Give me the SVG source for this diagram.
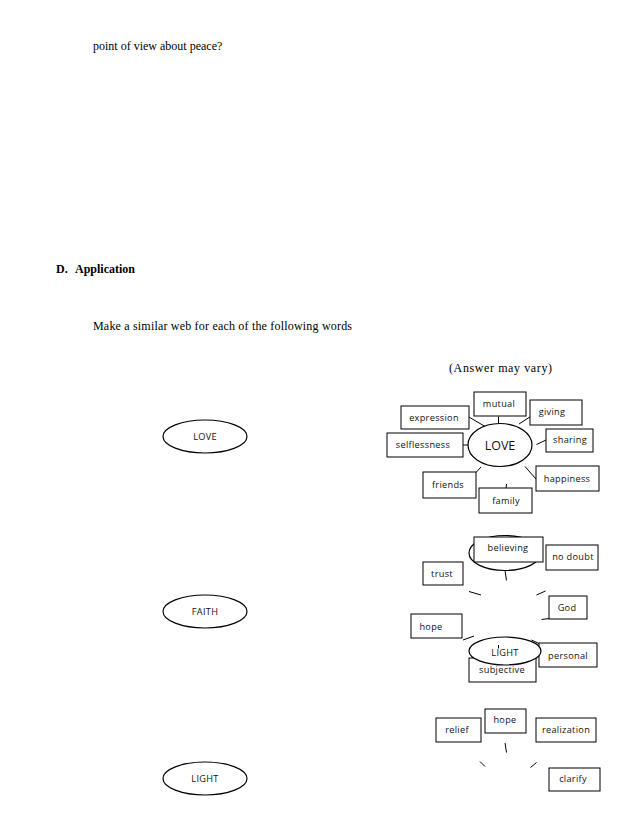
<svg xmlns="http://www.w3.org/2000/svg" width="638" height="826" viewBox="0 0 638 826">
<style>
.doc{font-family:"Liberation Serif","Times New Roman",serif;font-size:12px;fill:#000}
.b{font-weight:bold}
.box{fill:#fff;stroke:#000;stroke-width:1}
.ell{fill:#fff;stroke:#000;stroke-width:1.2}
.lbl{font-family:"Open Sans","Liberation Sans",sans-serif;font-size:9.2px;fill:#111;text-anchor:middle;letter-spacing:0.3px}
.big{font-size:12.5px;letter-spacing:0}
.con line{stroke:#000;stroke-width:1}
</style>
<rect width="638" height="826" fill="#fff"/>
<text class="doc" x="93" y="50">point of view about peace?</text>
<text class="doc b" x="56" y="273">D.</text>
<text class="doc b" x="75" y="273">Application</text>
<text class="doc" x="93" y="330" textLength="259">Make a similar web for each of the following words</text>
<text class="doc" x="449" y="372" textLength="103">(Answer may vary)</text>

<g id="left-love"><ellipse class="ell" cx="205" cy="436.5" rx="42" ry="16.5"/><text class="lbl" x="205" y="440">LOVE</text></g>
<g id="left-faith"><ellipse class="ell" cx="205" cy="611.5" rx="42" ry="16.5"/><text class="lbl" x="205" y="615">FAITH</text></g>
<g id="left-light"><ellipse class="ell" cx="205" cy="778.5" rx="42" ry="16.5"/><text class="lbl" x="205" y="782">LIGHT</text></g>

<g class="con" id="connectors">
<line x1="468" y1="416.5" x2="486" y2="427"/>
<line x1="498.5" y1="416.5" x2="498.5" y2="424"/>
<line x1="530.5" y1="416.5" x2="519" y2="424"/>
<line x1="463" y1="445" x2="468.5" y2="445"/>
<line x1="546" y1="440" x2="536.5" y2="444.5"/>
<line x1="476" y1="472.5" x2="481" y2="467"/>
<line x1="525" y1="466.5" x2="536" y2="479"/>
<line x1="506.5" y1="484" x2="506" y2="488.5"/>
<line x1="505" y1="570.5" x2="506.5" y2="580.5"/>
<line x1="469" y1="591.5" x2="481" y2="595"/>
<line x1="536.5" y1="595" x2="545.5" y2="591"/>
<line x1="541.5" y1="619.5" x2="549.5" y2="618.5"/>
<line x1="463" y1="640" x2="474" y2="636"/>
<line x1="531.5" y1="640" x2="540" y2="644"/>
<line x1="505" y1="743" x2="506.5" y2="752.5"/>
<line x1="480" y1="761.5" x2="485" y2="766.5"/>
<line x1="530.5" y1="767.5" x2="536.5" y2="762.5"/>
</g>

<g id="love">
<ellipse class="ell" cx="500" cy="445" rx="32" ry="21.5"/>
<text class="lbl big" x="500" y="449.5">LOVE</text>
</g>
<g id="expression"><rect class="box" x="401" y="406" width="68" height="23"/><text class="lbl" x="434" y="421">expression</text></g>
<g id="mutual"><rect class="box" x="474" y="392" width="52" height="24"/><text class="lbl" x="499" y="407">mutual</text></g>
<g id="giving"><rect class="box" x="530" y="400" width="52" height="25"/><text class="lbl" x="552" y="415">giving</text></g>
<g id="selflessness"><rect class="box" x="387" y="433" width="76" height="24"/><text class="lbl" x="423" y="448">selflessness</text></g>
<g id="sharing"><rect class="box" x="546" y="429" width="47" height="23"/><text class="lbl" x="570" y="443">sharing</text></g>
<g id="happiness"><rect class="box" x="536" y="466" width="63" height="25"/><text class="lbl" x="567" y="482">happiness</text></g>
<g id="friends"><rect class="box" x="423" y="472" width="53" height="26"/><text class="lbl" x="448" y="488">friends</text></g>
<g id="family"><rect class="box" x="479" y="488" width="53" height="25"/><text class="lbl" x="506" y="504">family</text></g>

<g id="faith-ellipse"><ellipse class="ell" cx="505" cy="553" rx="36" ry="17.5"/></g>
<g id="believing"><rect class="box" x="474" y="537" width="69" height="25"/><text class="lbl" x="508" y="551">believing</text></g>
<g id="no-doubt"><rect class="box" x="546" y="545" width="52" height="25"/><text class="lbl" x="573" y="560">no doubt</text></g>
<g id="trust"><rect class="box" x="423" y="562" width="40" height="23"/><text class="lbl" x="442" y="577">trust</text></g>
<g id="god"><rect class="box" x="549" y="596" width="38" height="23"/><text class="lbl" x="567" y="611">God</text></g>
<g id="hope1"><rect class="box" x="411" y="614" width="51" height="24"/><text class="lbl" x="431" y="630">hope</text></g>
<g id="subjective"><rect class="box" x="469" y="658" width="67" height="24"/><text class="lbl" x="502" y="672.5">subjective</text></g>
<g id="personal"><rect class="box" x="539" y="643" width="58" height="24"/><text class="lbl" x="568" y="659">personal</text></g>
<g id="light-ellipse"><ellipse class="ell" cx="505" cy="651" rx="36" ry="14"/><text class="lbl" x="505" y="656">LIGHT</text><line x1="498.5" y1="645" x2="498.5" y2="648.5" stroke="#000" stroke-width="1"/></g>

<g id="relief"><rect class="box" x="436" y="718" width="45" height="24"/><text class="lbl" x="457" y="733">relief</text></g>
<g id="hope2"><rect class="box" x="485" y="709" width="41" height="24"/><text class="lbl" x="505" y="723">hope</text></g>
<g id="realization"><rect class="box" x="536" y="718" width="60" height="24"/><text class="lbl" x="566" y="733">realization</text></g>
<g id="clarify"><rect class="box" x="549" y="768" width="51" height="23"/><text class="lbl" x="573" y="782">clarify</text></g>
</svg>
